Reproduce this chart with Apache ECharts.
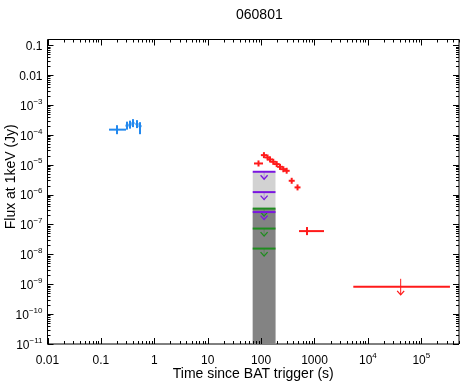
<!DOCTYPE html>
<html>
<head>
<meta charset="UTF-8">
<title>060801</title>
<script src="https://cdn.jsdelivr.net/npm/echarts/dist/echarts.min.js"></script>
<style>
    html, body { margin:0; padding:0; background:#fff; }
    #main { width:463px; height:383px; }
</style>
</head>
<body>
<div id="main"></div>
<script>
// BAT points (blue)  - time in s, flux in Jy
var batTime   = [0.20, 0.308, 0.351, 0.399, 0.474, 0.54];
var batTimeLo = [0.142, 0.289, 0.329, 0.374, 0.444, 0.506];
var batTimeHi = [0.295, 0.329, 0.375, 0.426, 0.506, 0.576];
var batFlux   = [1.49e-4, 2.03e-4, 2.19e-4, 2.46e-4, 2.28e-4, 1.95e-4];
var batFluxLo = [1.05e-4, 1.49e-4, 1.61e-4, 1.81e-4, 1.68e-4, 1.05e-4];
var batFluxHi = [2.10e-4, 2.76e-4, 2.98e-4, 3.35e-4, 3.10e-4, 2.65e-4];

// XRT points (red)
var xrtTime   = [89.4, 113, 132, 147, 169, 196, 226, 261, 301, 374, 481, 724];
var xrtTimeLo = [73.6, 99, 116, 129, 149, 172, 199, 229, 265, 329, 423, 513];
var xrtTimeHi = [108.6, 129, 150, 167, 192, 223, 257, 297, 343, 426, 547, 1507];
var xrtFlux   = [1.10e-5, 2.09e-5, 1.75e-5, 1.50e-5, 1.25e-5, 1.05e-5, 8.5e-6, 7.1e-6, 6.25e-6, 2.9e-6, 1.74e-6, 6.0e-8];
var xrtFluxLo = [8.7e-6, 1.66e-5, 1.39e-5, 1.19e-5, 9.9e-6, 8.3e-6, 6.7e-6, 5.6e-6, 5.0e-6, 2.3e-6, 1.38e-6, 4.4e-8];
var xrtFluxHi = [1.39e-5, 2.63e-5, 2.2e-5, 1.89e-5, 1.58e-5, 1.32e-5, 1.07e-5, 8.9e-6, 7.9e-6, 3.65e-6, 2.19e-6, 8.2e-8];

// XRT upper limit
var xrtUlTime   = [41100];
var xrtUlTimeLo = [5330];
var xrtUlTimeHi = [344000];
var xrtUlFlux   = [8.2e-10];

// UVOT upper limits inside the grey band
var uvotStart = 69.7;
var uvotEnd   = 186;
var uvotPurple = [5.8e-6, 1.21e-6, 2.6e-7];
var uvotGreen  = [3.4e-7, 7.3e-8, 1.56e-8];

// axes (log10 space)
var xMinExp = -2, xMaxExp = 5.706;
var yMinExp = -11, yMaxExp = -0.81;
var xTickLabels = ['0.01', '0.1', '1', '10', '100', '1000', '10|4', '10|5'];
var yTickLabels = ['10|−11', '10|−10', '10|−9', '10|−8', '10|−7', '10|−6', '10|−5', '10|−4', '10|−3', '0.01', '0.1'];

var L = Math.log10;
var FONT = 'Liberation Sans';

function fmtLabel(s) {
    if (s.indexOf('|') < 0) return '{b|' + s + '}';
    var p = s.split('|');
    return '{b|' + p[0] + '}{s|' + p[1] + '}';
}
var richLab = {
    b: { fontSize: 12, fontFamily: FONT, color: '#000', verticalAlign: 'bottom', lineHeight: 15 },
    s: { fontSize: 8, fontFamily: FONT, color: '#000', verticalAlign: 'top', lineHeight: 15 }
};

function crossData(t, tl, th, f, fl, fh) {
    var d = [];
    for (var i = 0; i < t.length; i++) {
        d.push([L(t[i]), L(f[i]), L(tl[i]), L(th[i]), L(fl[i]), L(fh[i])]);
    }
    return d;
}

function crossRender(color, w) {
    return function (params, api) {
        var c = api.coord([api.value(0), api.value(1)]);
        var xl = api.coord([api.value(2), api.value(1)])[0];
        var xh = api.coord([api.value(3), api.value(1)])[0];
        var yl = api.coord([api.value(0), api.value(4)])[1];
        var yh = api.coord([api.value(0), api.value(5)])[1];
        return { type: 'group', children: [
            { type: 'line', shape: { x1: xl, y1: c[1], x2: xh, y2: c[1] }, style: { stroke: color, lineWidth: w } },
            { type: 'line', shape: { x1: c[0], y1: yl, x2: c[0], y2: yh }, style: { stroke: color, lineWidth: w } }
        ]};
    };
}

// horizontal bar + arrow pointing down
function limitRender(color, w, up, down) {
    return function (params, api) {
        var c = api.coord([api.value(0), api.value(1)]);
        var xl = api.coord([api.value(2), api.value(1)])[0];
        var xh = api.coord([api.value(3), api.value(1)])[0];
        var y = c[1], x = c[0];
        return { type: 'group', children: [
            { type: 'line', shape: { x1: x, y1: y - up, x2: x, y2: y + down },
              style: { stroke: color, lineWidth: 1, opacity: up > 0 ? 1 : 0.35 } },
            { type: 'polyline', shape: { points: [[x - 3.5, y + down - 4], [x, y + down], [x + 3.5, y + down - 4]] },
              style: { stroke: color, fill: null, lineWidth: 1.3 } },
            { type: 'line', shape: { x1: xl, y1: y, x2: xh, y2: y }, style: { stroke: color, lineWidth: 2 } }
        ]};
    };
}

function bandRender(color) {
    return function (params, api) {
        var p1 = api.coord([api.value(0), api.value(1)]);
        var p2 = api.coord([api.value(2), yMinExp]);
        return { type: 'rect', shape: { x: p1[0], y: p1[1], width: p2[0] - p1[0], height: p2[1] - p1[1] },
                 style: { fill: color } };
    };
}

// log tick positions
var xTicks = [], yTicks = [];
for (var n = -2; n <= 5; n++) {
    for (var k = 1; k <= 9; k++) {
        var v = n + L(k);
        if (v <= xMaxExp) xTicks.push([v, yMinExp, k === 1 ? 1 : 0]);
    }
}
for (var n2 = -11; n2 <= -1; n2++) {
    for (var k2 = 1; k2 <= 9; k2++) {
        var v2 = n2 + L(k2);
        if (v2 <= yMaxExp) yTicks.push([xMinExp, v2, k2 === 1 ? 1 : 0]);
    }
}

function tickRender(isX) {
    return function (params, api) {
        var cs = params.coordSys;
        var len = api.value(2) ? 6 : 3;
        var st = { stroke: '#000', lineWidth: 1 };
        if (isX) {
            var x = Math.round(api.coord([api.value(0), yMinExp])[0]) + 0.5;
            return { type: 'group', children: [
                { type: 'line', shape: { x1: x, y1: cs.y + cs.height, x2: x, y2: cs.y + cs.height - len }, style: st },
                { type: 'line', shape: { x1: x, y1: cs.y, x2: x, y2: cs.y + len }, style: st }
            ]};
        }
        var y = Math.round(api.coord([xMinExp, api.value(1)])[1]) + 0.5;
        return { type: 'group', children: [
            { type: 'line', shape: { x1: cs.x, y1: y, x2: cs.x + len, y2: y }, style: st },
            { type: 'line', shape: { x1: cs.x + cs.width, y1: y, x2: cs.x + cs.width - len, y2: y }, style: st }
        ]};
    };
}

var bandLight = [[L(uvotStart), L(Math.max.apply(null, uvotPurple)), L(uvotEnd)]];
var bandDark  = [[L(uvotStart), L(Math.max.apply(null, uvotGreen)), L(uvotEnd)]];
var midBand = (L(uvotStart) + L(uvotEnd)) / 2;
var purpleData = uvotPurple.map(function (f) { return [midBand, L(f), L(uvotStart), L(uvotEnd)]; });
var greenData  = uvotGreen.map(function (f) { return [midBand, L(f), L(uvotStart), L(uvotEnd)]; });
var ulData = xrtUlTime.map(function (t, i) { return [L(t), L(xrtUlFlux[i]), L(xrtUlTimeLo[i]), L(xrtUlTimeHi[i])]; });

var myChart = echarts.init(document.getElementById('main'));
var option = {
    animation: false,
    backgroundColor: '#fff',
    title: {
        text: '060801',
        left: 231,
        top: 3,
        textStyle: { fontSize: 14, fontWeight: 'normal', fontFamily: FONT, color: '#000' }
    },
    grid: {
        left: 47.5, right: 4, top: 39.5, bottom: 39,
        outerBoundsMode: 'none',
        containLabel: false,
        show: true, borderColor: '#000', borderWidth: 1, backgroundColor: 'transparent'
    },
    xAxis: {
        type: 'value',
        min: xMinExp, max: xMaxExp, interval: 1,
        axisLine: { show: false },
        axisTick: { show: false },
        splitLine: { show: false },
        axisLabel: {
            margin: 8,
            showMaxLabel: false,
            formatter: function (v) {
                var i = Math.round(v - xMinExp);
                if (Math.abs(v - Math.round(v)) > 1e-6 || !xTickLabels[i]) return '';
                return fmtLabel(xTickLabels[i]);
            },
            rich: richLab
        },
        name: 'Time since BAT trigger (s)',
        nameLocation: 'middle',
        nameGap: 23,
        nameMoveOverlap: false,
        nameTextStyle: { fontSize: 14, fontFamily: FONT, color: '#000' }
    },
    yAxis: {
        type: 'value',
        min: yMinExp, max: yMaxExp, interval: 1,
        axisLine: { show: false },
        axisTick: { show: false },
        splitLine: { show: false },
        axisLabel: {
            margin: 5,
            showMaxLabel: false,
            formatter: function (v) {
                var i = Math.round(v - yMinExp);
                if (Math.abs(v - Math.round(v)) > 1e-6 || !yTickLabels[i]) return '';
                return fmtLabel(yTickLabels[i]);
            },
            rich: richLab
        },
        name: 'Flux at 1keV (Jy)',
        nameLocation: 'middle',
        nameGap: 29,
        nameMoveOverlap: false,
        nameTextStyle: { fontSize: 14, fontFamily: FONT, color: '#000', padding: [0, 0, 0, 30] }
    },
    series: [
        { name: 'band light', type: 'custom', renderItem: bandRender('#d2d2d2'), data: bandLight, z: 1, silent: true },
        { name: 'band dark', type: 'custom', renderItem: bandRender('#838383'), data: bandDark, z: 2, silent: true },
        { name: 'UVOT a', type: 'custom', renderItem: limitRender('#7a16e0', 2, 0, 7.5), data: purpleData, z: 4 },
        { name: 'UVOT b', type: 'custom', renderItem: limitRender('#1f8c1f', 2, 0, 7.5), data: greenData, z: 3 },
        { name: 'BAT', type: 'custom', renderItem: crossRender('#2288ee', 2),
          data: crossData(batTime, batTimeLo, batTimeHi, batFlux, batFluxLo, batFluxHi), z: 5 },
        { name: 'XRT', type: 'custom', renderItem: crossRender('#ff1a1a', 2),
          data: crossData(xrtTime, xrtTimeLo, xrtTimeHi, xrtFlux, xrtFluxLo, xrtFluxHi), z: 5 },
        { name: 'XRT UL', type: 'custom', renderItem: limitRender('#ff1a1a', 2, 8, 8), data: ulData, z: 5 },
        { name: 'xticks', type: 'custom', renderItem: tickRender(true), data: xTicks, z: 10, silent: true, clip: false },
        { name: 'yticks', type: 'custom', renderItem: tickRender(false), data: yTicks, z: 10, silent: true, clip: false }
    ]
};
myChart.setOption(option);
</script>
</body>
</html>
